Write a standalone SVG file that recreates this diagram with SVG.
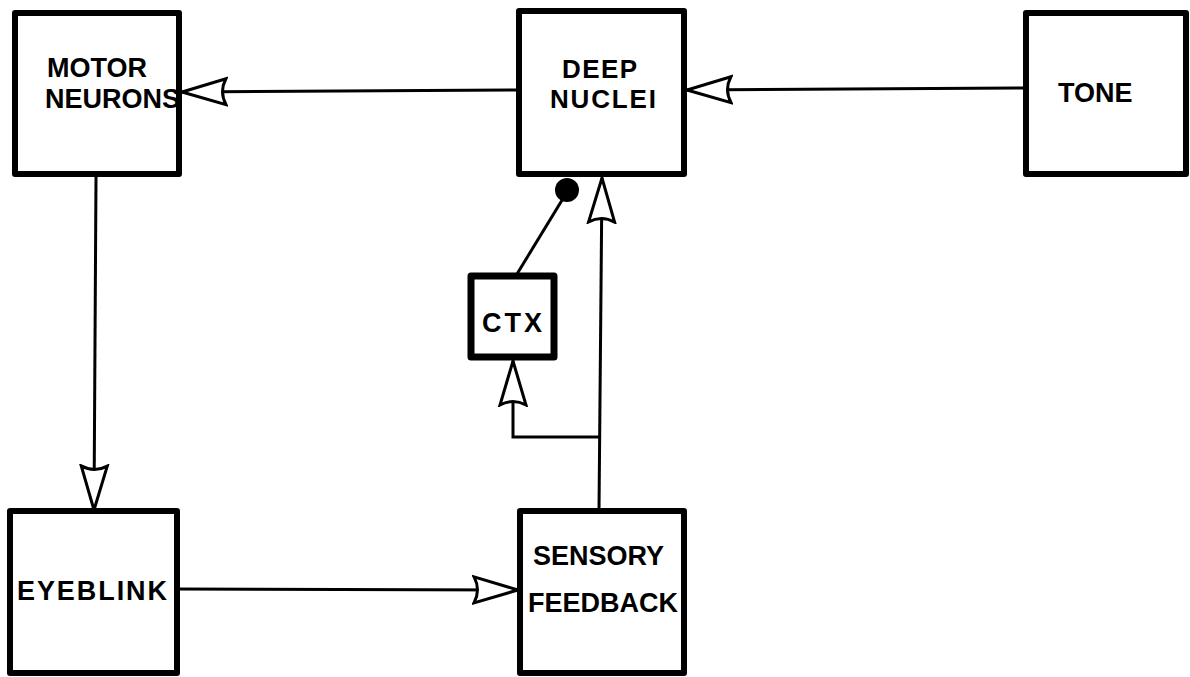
<svg xmlns="http://www.w3.org/2000/svg" width="1190" height="677" viewBox="0 0 1190 677">
<style>
.box{fill:#fff;stroke:#000;stroke-width:6;stroke-linejoin:round}
.ctx{stroke-width:7}
.lbl{font-family:"Liberation Sans",Arial,sans-serif;font-weight:bold;font-size:27px;fill:#000}
.ln{fill:none;stroke:#000;stroke-width:3}
</style>
<defs>
<marker id="open" markerUnits="userSpaceOnUse" viewBox="0 0 48 32" refX="46" refY="16" markerWidth="48" markerHeight="32" orient="auto">
<path d="M46,16 L2,3 Q9,16 2,29 Z" fill="#fff" stroke="#000" stroke-width="3" stroke-linejoin="miter"/>
</marker>
</defs>
<rect width="1190" height="677" fill="#fff"/>
<g id="connectors">
<line class="ln" x1="519" y1="90" x2="182" y2="92" marker-end="url(#open)"/>
<line class="ln" x1="1026" y1="88" x2="687" y2="90" marker-end="url(#open)"/>
<line class="ln" x1="96" y1="177" x2="94" y2="510" marker-end="url(#open)"/>
<line class="ln" x1="177" y1="589" x2="518" y2="590" marker-end="url(#open)"/>
<line class="ln" x1="599" y1="510" x2="602" y2="178" marker-end="url(#open)"/>
<path class="ln" d="M600,437 H513 V361" marker-end="url(#open)"/>
<line class="ln" x1="517" y1="274" x2="567" y2="192"/>
<circle cx="567" cy="190" r="12" fill="#000"/>
</g>
<g id="motor">
<rect class="box" x="15" y="13" width="164" height="161"/>
<text class="lbl" x="47" y="77">MOTOR</text>
<text class="lbl" x="45" y="108">NEURONS</text>
</g>
<g id="deep">
<rect class="box" x="519" y="11" width="165" height="163"/>
<text class="lbl" x="562" y="78" style="font-size:26px" textLength="75">DEEP</text>
<text class="lbl" x="550" y="108" style="font-size:26px" textLength="106">NUCLEI</text>
</g>
<g id="tone">
<rect class="box" x="1026" y="13" width="160" height="161"/>
<text class="lbl" x="1058" y="102">TONE</text>
</g>
<g id="ctx">
<rect class="box ctx" x="471" y="276" width="83" height="81"/>
<text class="lbl" x="482" y="332" textLength="60">CTX</text>
</g>
<g id="eyeblink">
<rect class="box" x="10" y="511" width="167" height="162"/>
<text class="lbl" x="17" y="600" textLength="150">EYEBLINK</text>
</g>
<g id="sensory">
<rect class="box" x="520" y="511" width="164" height="162"/>
<text class="lbl" x="533" y="565">SENSORY</text>
<text class="lbl" x="528" y="612">FEEDBACK</text>
</g>
</svg>
